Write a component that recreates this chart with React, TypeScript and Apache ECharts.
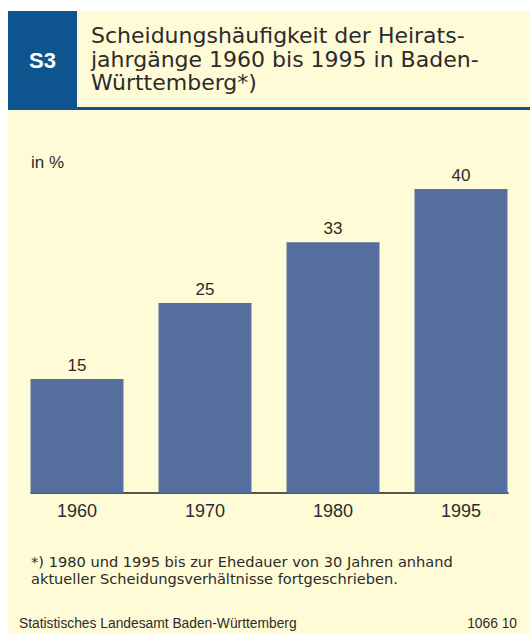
import React, { useEffect, useRef } from "react";
import * as echarts from "echarts";

const categories = ["1960", "1970", "1980", "1995"];
const values = [15, 25, 33, 40];
const titleLines = [
  "Scheidungshäufigkeit der Heirats-",
  "jahrgänge 1960 bis 1995 in Baden-",
  "Württemberg*)",
];
const unitLabel = "in %";
const footnoteLines = [
  "*) 1980 und 1995 bis zur Ehedauer von 30 Jahren anhand",
  "aktueller Scheidungsverhältnisse fortgeschrieben.",
];
const sourceText = "Statistisches Landesamt Baden-Württemberg";
const codeText = "1066 10";
const badge = "S3";

const FONT = "'Liberation Sans', Arial, sans-serif";
const WIDE = "'DejaVu Sans', sans-serif";
const BG = "#FFFBD7";
const BLUE = "#0E5590";
const BAR = "#55709E";
const TXT = "#2b2b2b";

export default function App() {
  const ref = useRef<HTMLDivElement>(null);
  useEffect(() => {
    if (!ref.current) return;
    const chart = echarts.init(ref.current, null, { renderer: "svg" });
    const graphics: any[] = [
      { type: "rect", z: -10, shape: { x: 8, y: 11, width: 522, height: 622 }, style: { fill: BG } },
      { type: "rect", z: -9, shape: { x: 8, y: 11, width: 69, height: 96 }, style: { fill: BLUE } },
      { type: "rect", z: -9, shape: { x: 8, y: 107, width: 522, height: 3 }, style: { fill: BLUE } },
      {
        type: "text", x: 42.5, y: 60,
        style: { text: badge, fill: "#ffffff", font: `bold 22px ${FONT}`, align: "center", verticalAlign: "middle" },
      },
      ...titleLines.map((t, i) => ({
        type: "text", x: 91, y: 35.5 + i * 23.5,
        style: { text: t, fill: TXT, font: `22px ${WIDE}`, align: "left", verticalAlign: "middle" },
      })),
      {
        type: "text", x: 31, y: 162,
        style: { text: unitLabel, fill: TXT, font: `17px ${FONT}`, align: "left", verticalAlign: "middle" },
      },
      ...footnoteLines.map((t, i) => ({
        type: "text", x: 31, y: 561 + i * 17,
        style: { text: t, fill: TXT, font: `14.6px ${WIDE}`, align: "left", verticalAlign: "middle" },
      })),
      {
        type: "text", x: 19, y: 623,
        style: { text: sourceText, fill: TXT, font: `13.8px ${FONT}`, align: "left", verticalAlign: "middle" },
      },
      {
        type: "text", x: 517, y: 623,
        style: { text: codeText, fill: TXT, font: `13.8px ${FONT}`, align: "right", verticalAlign: "middle" },
      },
    ];
    chart.setOption({
      animation: false,
      grid: [
        { left: 13, right: 5, top: 113, bottom: 140 },
        { left: 31, right: 22, top: 113, bottom: 140 },
      ],
      xAxis: [
        {
          type: "category", data: categories, gridIndex: 0,
          axisLine: { show: false }, axisTick: { show: false },
          axisLabel: { color: TXT, fontSize: 18, fontFamily: FONT, margin: 9 },
        },
        {
          type: "value", gridIndex: 1, min: 0, max: 1,
          axisLine: { show: true, onZero: false, lineStyle: { color: "#222", width: 1.5 } },
          axisTick: { show: false }, axisLabel: { show: false }, splitLine: { show: false },
        },
      ],
      yAxis: [
        { type: "value", gridIndex: 0, min: 0, max: 50, show: false },
        { type: "value", gridIndex: 1, min: 0, max: 50, show: false },
      ],
      series: [
        {
          type: "bar", xAxisIndex: 0, yAxisIndex: 0, data: values, barWidth: 93,
          itemStyle: { color: BAR },
          label: { show: true, position: "top", distance: 5, color: TXT, fontSize: 17, fontFamily: FONT },
        },
      ],
      graphic: graphics,
    });
    return () => chart.dispose();
  }, []);
  return <div ref={ref} style={{ position: "fixed", left: 0, top: 0, width: 530, height: 633, background: "#fff" }} />;
}
